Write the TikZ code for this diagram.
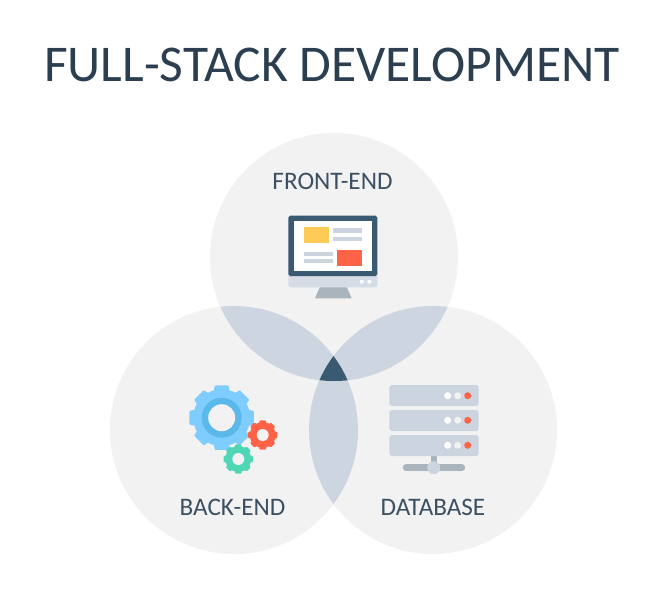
\documentclass[tikz,border=0pt]{standalone}
\usepackage{fontspec}
\setmainfont{Carlito}
\usetikzlibrary{positioning}
\definecolor{vennbase}{HTML}{F2F2F2}
\definecolor{vennpair}{HTML}{CDD6E0}
\definecolor{venncore}{HTML}{3A5A72}
\definecolor{inktitle}{HTML}{2B3F50}
\definecolor{inklabel}{HTML}{3C5063}
\definecolor{panel}{HTML}{CBD4DF}
\definecolor{panellight}{HTML}{D5DCE5}
\definecolor{standgrey}{HTML}{A9B4BD}
\definecolor{accentred}{HTML}{FF6347}
\definecolor{accentyellow}{HTML}{FFCB57}
\definecolor{cogblue}{HTML}{7FCDFF}
\definecolor{cogring}{HTML}{5BB8EA}
\definecolor{coggreen}{HTML}{4FD6B4}
\newcommand{\cogwheel}[5]{
	\fill [#5] (#1,#2) circle (#4);
	\foreach \a in {0,45,...,315}
		\fill [#5, shift={(#1,#2)}, rounded corners=0.8pt] (\a-17:#4-1) -- (\a-12:#3) -- (\a+12:#3) -- (\a+17:#4-1) -- cycle;
}
\begin{document}
\begin{tikzpicture}[x=0.03cm, y=0.03cm]
		\tikzstyle{every node}+=[inner sep=0pt]
		\tikzstyle{sectionlabel}=[text=inklabel, font=\fontsize{21.5}{24}\selectfont]
		\tikzstyle{screenline}=[fill=panel]
		\tikzstyle{rack}=[fill=panel, rounded corners=2.5pt]
		\fill [white] (0,0) rectangle (660,-602);
		\node [text=inktitle, font=\fontsize{44}{50}\selectfont] (title) at (332,-65) {FULL-STACK DEVELOPMENT};
		\fill [vennbase] (334,-257) circle (124);
		\fill [vennbase] (234,-430) circle (124);
		\fill [vennbase] (433,-430) circle (124);
		\begin{scope}
			\clip (334,-257) circle (124);
			\fill [vennpair] (234,-430) circle (124);
			\fill [vennpair] (433,-430) circle (124);
		\end{scope}
		\begin{scope}
			\clip (234,-430) circle (124);
			\fill [vennpair] (433,-430) circle (124);
		\end{scope}
		\begin{scope}
			\clip (334,-257) circle (124);
			\clip (234,-430) circle (124);
			\fill [venncore] (433,-430) circle (124);
		\end{scope}
		\node [sectionlabel] (frontend) at (332.5,-181) {FRONT-END};
		\node [sectionlabel] (backend) at (232.5,-507) {BACK-END};
		\node [sectionlabel] (database) at (433,-507) {DATABASE};
		\fill [standgrey] (320,-287) -- (346.7,-287) -- (351.7,-298.3) -- (315,-298.3) -- cycle;
		\fill [panellight, rounded corners=1.5pt] (288.3,-270) rectangle (377.3,-287.3);
		\fill [venncore, rounded corners=1.5pt] (288.3,-215.7) -- (377.3,-215.7) -- (377.3,-276) -- (288.3,-276) -- cycle;
		\fill [white] (294.3,-221) rectangle (371.7,-271.3);
		\fill [accentyellow] (304,-226.7) rectangle (329.3,-242.7);
		\fill [screenline] (333.3,-228.3) rectangle (362,-232.7);
		\fill [screenline] (333.3,-236.7) rectangle (362,-240.7);
		\fill [screenline] (304,-251.7) rectangle (332.7,-256);
		\fill [screenline] (304,-259.3) rectangle (332.7,-263.3);
		\fill [accentred] (336.7,-250) rectangle (362.3,-265.7);
		\fill [white] (361.7,-281.7) circle (2);
		\fill [white] (369.3,-281.7) circle (2);
		\cogwheel{221.7}{-417.7}{33}{28.5}{cogblue}
		\fill [cogring] (221.7,-417.7) circle (20);
		\fill [vennbase] (221.7,-417.7) circle (13.5);
		\cogwheel{262.7}{-435}{15}{13}{accentred}
		\fill [vennbase] (262.7,-435) circle (6);
		\cogwheel{238.3}{-459}{15}{13}{coggreen}
		\fill [vennbase] (238.3,-459) circle (6);
		\fill [standgrey] (431,-456) rectangle (437.3,-470);
		\draw [standgrey, line width=5.5pt, line cap=round] (406,-467.7) -- (462,-467.7);
		\fill [panel] (433.7,-467.7) circle (6.5);
		\foreach \y/\h in {385/395.7, 410/420.3, 435/445.3} {
			\fill [rack] (389.3,-\y) rectangle (478.7,-\y-21);
			\fill [white] (447.7,-\h) circle (3.5);
			\fill [vennbase] (457.7,-\h) circle (3.5);
			\fill [accentred] (467.7,-\h) circle (3.5);
		}
		\end{tikzpicture}
\end{document}
